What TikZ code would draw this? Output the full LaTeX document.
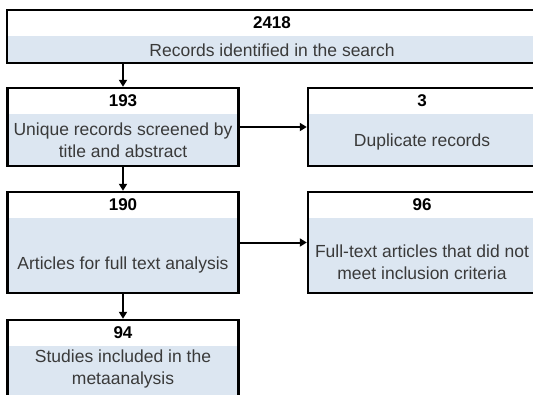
\documentclass[tikz,border=0pt]{standalone}
\usepackage{fontspec}
\setmainfont{Liberation Sans}
\usepackage{tikz}
\usetikzlibrary{positioning, arrows.meta}
\usepackage{xcolor}
\definecolor{bandblue}{HTML}{DCE6F1}
\definecolor{inktext}{HTML}{3A3A3A}

\tikzset{
  stage/.style={draw, line width=2.4pt, rectangle, inner sep=0pt,
    path picture={\fill[bandblue] ([yshift=-26pt]path picture bounding box.north west) rectangle (path picture bounding box.south east);}},
  stagecount/.style={font=\fontsize{17}{20}\selectfont\bfseries, text=black, inner sep=0pt},
  stagetext/.style={font=\fontsize{17.5}{21.5}\selectfont, text=inktext, align=center, inner sep=0pt},
  flow/.style={line width=2pt, -{Triangle[length=7pt,width=8pt]}}
}

\begin{document}
\begin{tikzpicture}[x=1pt, y=-1pt]
        \useasboundingbox (0,0) rectangle (533,394);
        \clip (0,0) rectangle (533,394);
        \node[stage, minimum width=530, minimum height=53] (search) at (272,36.5) {};
        \node[stagecount] (searchN) at (272,23) {2418};
        \node[stagetext] (searchT) at (272,50) {Records identified in the search};

        \node[stage, minimum width=231, minimum height=78] (screen) at (123,127) {};
        \node[stagecount] (screenN) at (123,101) {193};
        \node[stagetext] (screenT) at (123,140) {Unique records screened by\\title and abstract};

        \node[stage, minimum width=228, minimum height=78] (dup) at (422,127) {};
        \node[stagecount] (dupN) at (422,101) {3};
        \node[stagetext] (dupT) at (422,142) {Duplicate records};

        \node[stage, minimum width=231, minimum height=101] (fulltext) at (123,242.5) {};
        \node[stagecount] (fulltextN) at (123,205) {190};
        \node[stagetext] (fulltextT) at (123,265) {Articles for full text analysis};

        \node[stage, minimum width=228, minimum height=101] (excluded) at (422,242.5) {};
        \node[stagecount] (excludedN) at (422,205) {96};
        \node[stagetext] (excludedT) at (422,262) {Full-text articles that did not\\meet inclusion criteria};

        \node[stage, minimum width=231, minimum height=90] (included) at (123,365) {};
        \node[stagecount] (includedN) at (123,333) {94};
        \node[stagetext] (includedT) at (123,369) {Studies included in the\\metaanalysis};
        % arrows between the stages
        \draw[flow] (search.south -| screen.north) -- (screen.north);
        \draw[flow] (screen.east) -- (dup.west);
        \draw[flow] (screen.south) -- (fulltext.north);
        \draw[flow] (fulltext.east) -- (excluded.west);
        \draw[flow] (fulltext.south) -- (included.north);
\end{tikzpicture}
\end{document}
